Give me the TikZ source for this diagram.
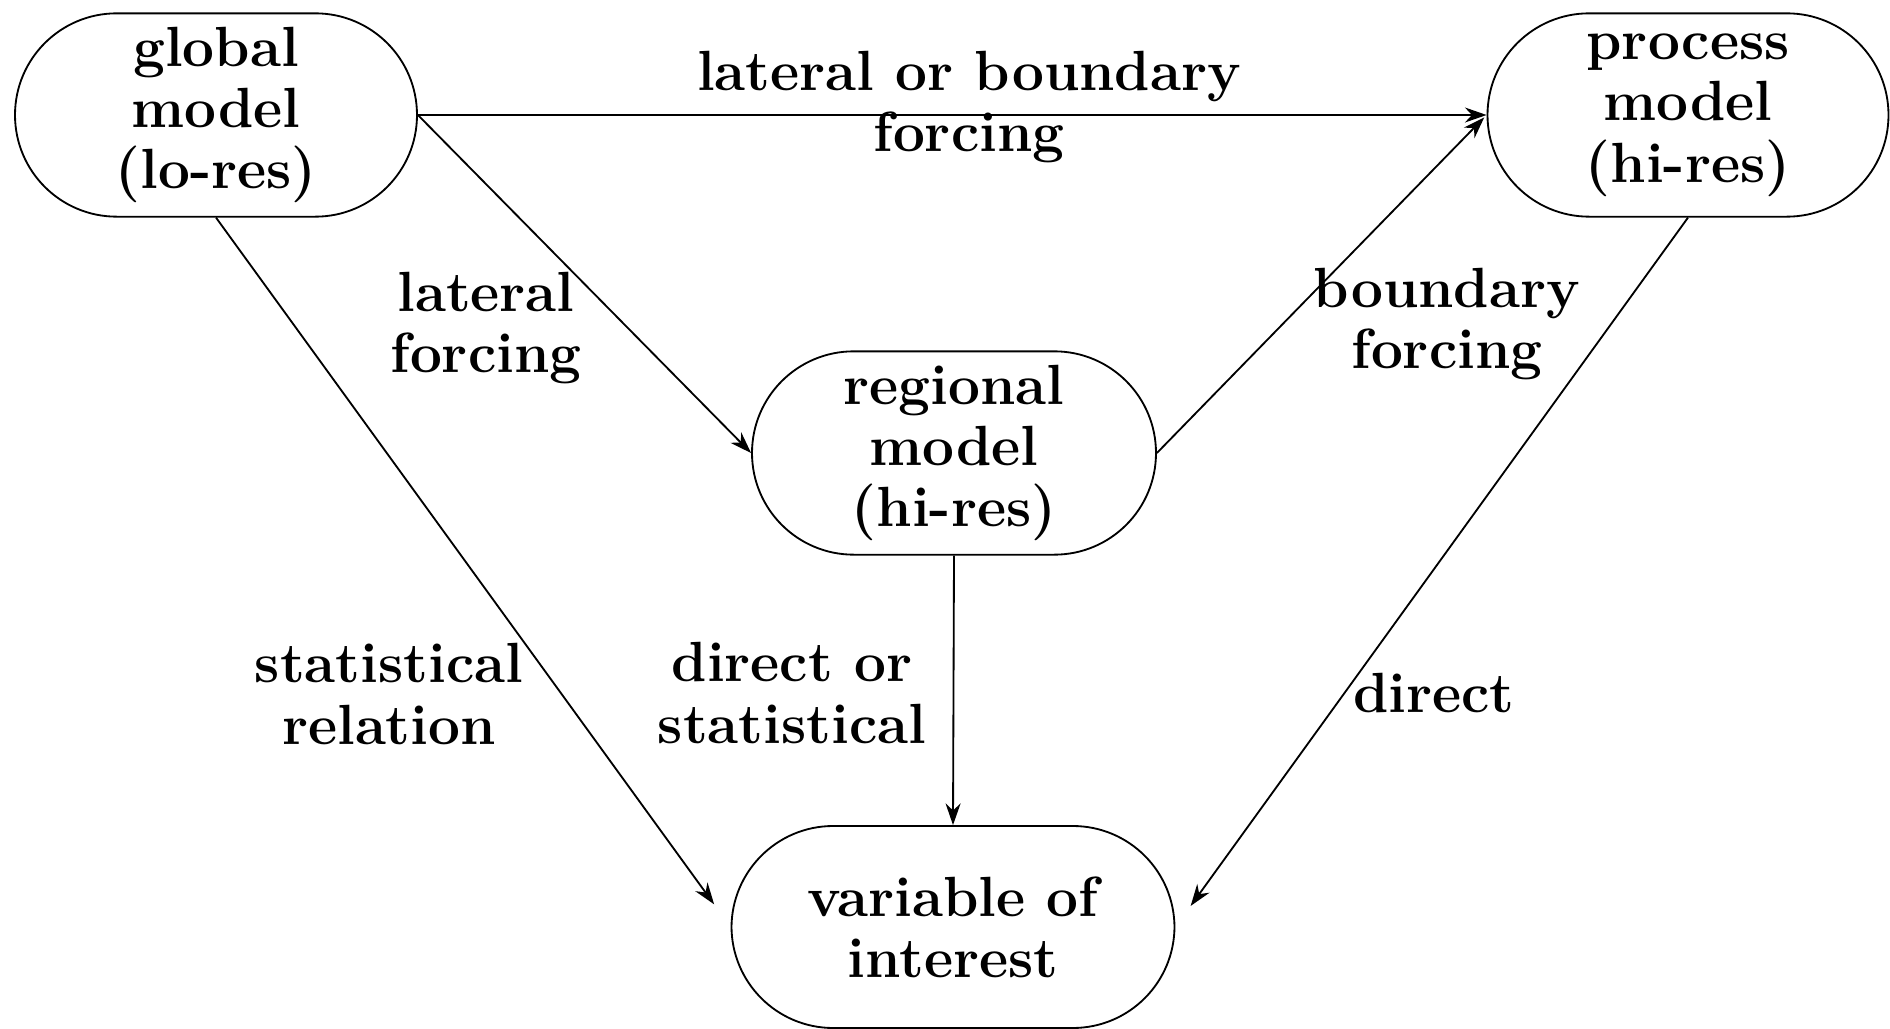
\documentclass[tikz,border=0pt]{standalone}
\usetikzlibrary{arrows.meta}
\begin{document}
\begin{tikzpicture}[x=0.3pt,y=-0.3pt,
  font=\fontsize{17}{18.4}\selectfont\bfseries,
  box/.style={draw, line width=0.55pt, rounded corners=30.5pt, minimum height=61pt, align=center, inner sep=0pt},
  arr/.style={-{Stealth[length=6.5pt,width=4.5pt]}, line width=0.55pt},
  lbl/.style={align=center, inner sep=0pt}]
\useasboundingbox (0,0) rectangle (1890,1029);
\node[box, minimum width=120.6pt] (glob) at (216,115) {global\\model\\(lo-res)};
\node[box, minimum width=120.3pt] (proc) at (1688,115) {process\\model\\(hi-res)};
\node[box, minimum width=121.2pt] (reg) at (954,453) {regional\\model\\(hi-res)};
\node[box, minimum width=132.9pt, minimum height=60.6pt] (var) at (953,927) {variable of\\interest};

\draw[arr] (glob.east) -- (proc.west);
\draw[arr] (glob.east) -- (reg.west);
\draw[arr, shorten >=1pt] (reg.east) -- (proc.west);
\draw[arr] (reg.south) -- (var.north);
\draw[arr, shorten >=8.4pt] (glob.south) -- (var.west);
\draw[arr, shorten >=7.8pt] (proc.south) -- (var.east);

\node[lbl] (l1) at (969,107) {lateral or boundary\\forcing};
\node[lbl] (l2) at (486,328) {lateral\\forcing};
\node[lbl] (l3) at (1447,324) {boundary\\forcing};
\node[lbl] (l4) at (389,694) {statistical\\relation};
\node[lbl] (l5) at (792,693) {direct or\\statistical};
\node[lbl] (l6) at (1434,693) {direct};
\end{tikzpicture}
\end{document}
